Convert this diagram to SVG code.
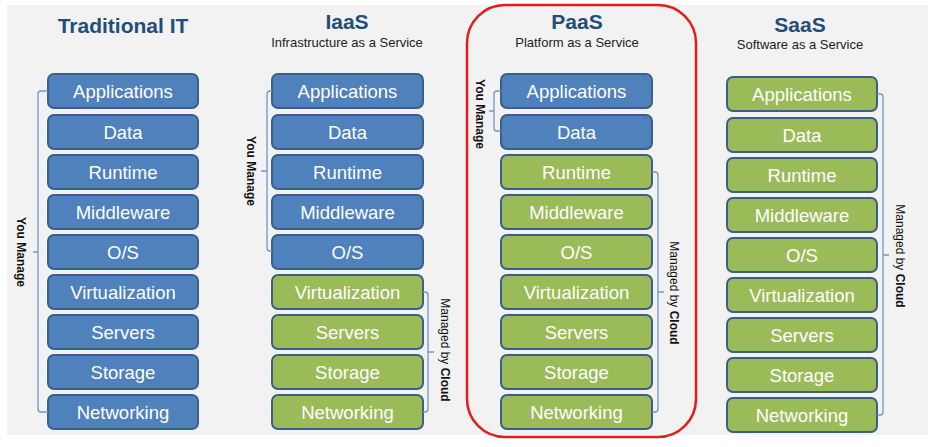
<svg xmlns="http://www.w3.org/2000/svg" width="931" height="447" viewBox="0 0 931 447">
<style>
.bg{fill:#f2f2f2}
.b{fill:#4f81bd;stroke:#3b5f88;stroke-width:2}
.g{fill:#9bbb59;stroke:#3b5f88;stroke-width:2}
.t{font-family:"Liberation Sans",Arial,sans-serif;font-size:18.5px;fill:#ffffff;text-anchor:middle}
.h{font-family:"Liberation Sans",Arial,sans-serif;font-size:21px;font-weight:bold;fill:#1f4e79;text-anchor:middle}
.s{font-family:"Liberation Sans",Arial,sans-serif;font-size:13px;fill:#222;text-anchor:middle}
.l{font-family:"Liberation Sans",Arial,sans-serif;font-size:12px;fill:#111;text-anchor:middle}
.bold{font-weight:bold}
.br{fill:none;stroke:#7096c8;stroke-width:1.3}
</style>
<rect width="931" height="447" fill="#ffffff"/>
<rect class="bg" x="7" y="5" width="921" height="430"/>

<g id="traditional-it">
<text class="h" x="123" y="33">Traditional IT</text>
<rect class="b" x="48" y="74" width="150" height="34" rx="6"/><text class="t" x="123" y="98">Applications</text>
<rect class="b" x="48" y="115" width="150" height="34" rx="6"/><text class="t" x="123" y="139">Data</text>
<rect class="b" x="48" y="155" width="150" height="34" rx="6"/><text class="t" x="123" y="179">Runtime</text>
<rect class="b" x="48" y="195" width="150" height="34" rx="6"/><text class="t" x="123" y="219">Middleware</text>
<rect class="b" x="48" y="235" width="150" height="34" rx="6"/><text class="t" x="123" y="259">O/S</text>
<rect class="b" x="48" y="275" width="150" height="34" rx="6"/><text class="t" x="123" y="299">Virtualization</text>
<rect class="b" x="48" y="315" width="150" height="34" rx="6"/><text class="t" x="123" y="339">Servers</text>
<rect class="b" x="48" y="355" width="150" height="34" rx="6"/><text class="t" x="123" y="379">Storage</text>
<rect class="b" x="48" y="395" width="150" height="34" rx="6"/><text class="t" x="123" y="419">Networking</text>
</g>

<g id="iaas">
<text class="h" x="347" y="29">IaaS</text>
<text class="s" x="347" y="47">Infrastructure as a Service</text>
<rect class="b" x="272" y="74" width="151" height="34" rx="6"/><text class="t" x="347.5" y="98">Applications</text>
<rect class="b" x="272" y="115" width="151" height="34" rx="6"/><text class="t" x="347.5" y="139">Data</text>
<rect class="b" x="272" y="155" width="151" height="34" rx="6"/><text class="t" x="347.5" y="179">Runtime</text>
<rect class="b" x="272" y="195" width="151" height="34" rx="6"/><text class="t" x="347.5" y="219">Middleware</text>
<rect class="b" x="272" y="235" width="151" height="34" rx="6"/><text class="t" x="347.5" y="259">O/S</text>
<rect class="g" x="272" y="275" width="151" height="34" rx="6"/><text class="t" x="347.5" y="299">Virtualization</text>
<rect class="g" x="272" y="315" width="151" height="34" rx="6"/><text class="t" x="347.5" y="339">Servers</text>
<rect class="g" x="272" y="355" width="151" height="34" rx="6"/><text class="t" x="347.5" y="379">Storage</text>
<rect class="g" x="272" y="395" width="151" height="34" rx="6"/><text class="t" x="347.5" y="419">Networking</text>
</g>

<g id="paas">
<rect x="467" y="5" width="229" height="432" rx="38" fill="none" stroke="#e01e1e" stroke-width="2.5"/>
<text class="h" x="577" y="29">PaaS</text>
<text class="s" x="577" y="47">Platform as a Service</text>
<rect class="b" x="501" y="74" width="151" height="34" rx="6"/><text class="t" x="576.5" y="98">Applications</text>
<rect class="b" x="501" y="115" width="151" height="34" rx="6"/><text class="t" x="576.5" y="139">Data</text>
<rect class="g" x="501" y="155" width="151" height="34" rx="6"/><text class="t" x="576.5" y="179">Runtime</text>
<rect class="g" x="501" y="195" width="151" height="34" rx="6"/><text class="t" x="576.5" y="219">Middleware</text>
<rect class="g" x="501" y="235" width="151" height="34" rx="6"/><text class="t" x="576.5" y="259">O/S</text>
<rect class="g" x="501" y="275" width="151" height="34" rx="6"/><text class="t" x="576.5" y="299">Virtualization</text>
<rect class="g" x="501" y="315" width="151" height="34" rx="6"/><text class="t" x="576.5" y="339">Servers</text>
<rect class="g" x="501" y="355" width="151" height="34" rx="6"/><text class="t" x="576.5" y="379">Storage</text>
<rect class="g" x="501" y="395" width="151" height="34" rx="6"/><text class="t" x="576.5" y="419">Networking</text>
</g>

<g id="saas">
<text class="h" x="800" y="32">SaaS</text>
<text class="s" x="800" y="49">Software as a Service</text>
<rect class="g" x="727" y="77" width="150" height="34" rx="6"/><text class="t" x="802" y="101">Applications</text>
<rect class="g" x="727" y="118" width="150" height="34" rx="6"/><text class="t" x="802" y="142">Data</text>
<rect class="g" x="727" y="158" width="150" height="34" rx="6"/><text class="t" x="802" y="182">Runtime</text>
<rect class="g" x="727" y="198" width="150" height="34" rx="6"/><text class="t" x="802" y="222">Middleware</text>
<rect class="g" x="727" y="238" width="150" height="34" rx="6"/><text class="t" x="802" y="262">O/S</text>
<rect class="g" x="727" y="278" width="150" height="34" rx="6"/><text class="t" x="802" y="302">Virtualization</text>
<rect class="g" x="727" y="318" width="150" height="34" rx="6"/><text class="t" x="802" y="342">Servers</text>
<rect class="g" x="727" y="358" width="150" height="34" rx="6"/><text class="t" x="802" y="382">Storage</text>
<rect class="g" x="727" y="398" width="150" height="34" rx="6"/><text class="t" x="802" y="422">Networking</text>
</g>

<g id="connectors">
<path class="br" d="M48,91 H41 Q38,91 38,94 V409 Q38,412 41,412 H48 M38,252 H33"/>
<path class="br" d="M272,91 H270 Q267,91 267,94 V248 Q267,251 270,251 H272 M267,171 H261"/>
<path class="br" d="M423,292 H425 Q428,292 428,295 V409 Q428,412 425,412 H423 M428,352 H434"/>
<path class="br" d="M501,91 H497 Q494,91 494,94 V128 Q494,131 497,131 H501 M494,111 H489"/>
<path class="br" d="M652,172 H655 Q658,172 658,175 V409 Q658,412 655,412 H652 M658,292 H664"/>
<path class="br" d="M877,94 H880 Q883,94 883,97 V412 Q883,415 880,415 H877 M883,255 H889"/>
</g>

<g id="labels">
<text class="l bold" transform="translate(21,252) rotate(90)" y="4">You Manage</text>
<text class="l bold" transform="translate(251,171) rotate(90)" y="4">You Manage</text>
<text class="l" transform="translate(445,350) rotate(90)" y="4">Managed by <tspan class="bold">Cloud</tspan></text>
<text class="l bold" transform="translate(480,114) rotate(90)" y="4">You Manage</text>
<text class="l" transform="translate(674,293) rotate(90)" y="4">Managed by <tspan class="bold">Cloud</tspan></text>
<text class="l" transform="translate(900,256) rotate(90)" y="4">Managed by <tspan class="bold">Cloud</tspan></text>
</g>
</svg>
